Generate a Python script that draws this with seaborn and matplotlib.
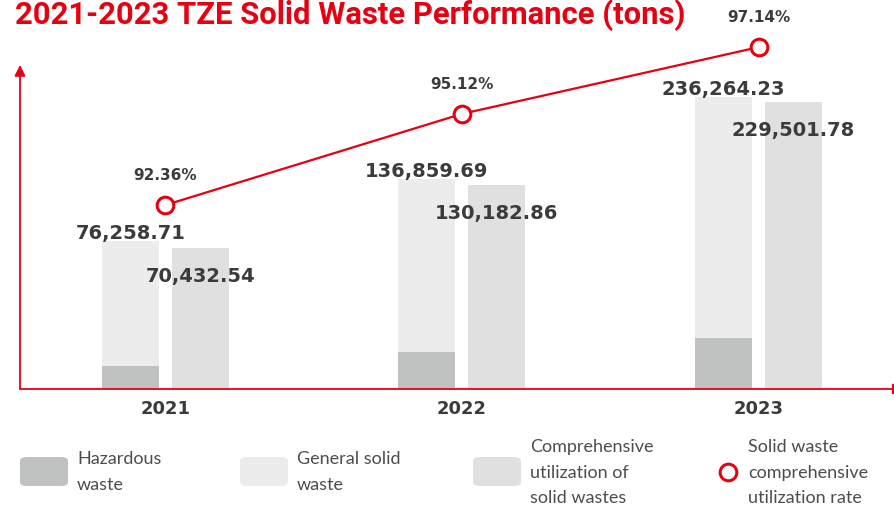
import numpy as np
import pandas as pd
import matplotlib
matplotlib.use("Agg")
import matplotlib.pyplot as plt
from matplotlib.patches import FancyBboxPatch
from matplotlib.lines import Line2D
import seaborn as sns

# ---- data (tons, %) ----
years = ["2021", "2022", "2023"]
total_waste = [76258.71, 136859.69, 236264.23]          # hazardous + general
hazardous_waste = [3470.0, 7660.0, 13050.0]             # estimated, not labelled
utilized_waste = [70432.54, 130182.86, 229501.78]
utilization_rate = [92.36, 95.12, 97.14]

RED = "#e60012"
HAZ = "#c0c2c1"
GEN = "#ececec"
UTIL = "#e0e0e0"
DARK = "#3d3a3a"
LEG = "#4d4d4d"

sns.set_theme(style="white")
plt.rcParams["font.family"] = ["DejaVu Sans"]

fig = plt.figure(figsize=(8.95, 5.06), dpi=100)
W, H = 895, 506
ax = fig.add_axes([20 / W, (H - 390) / H, (W - 20) / W, (390 - 66) / H])

# compressed value axis so small years stay readable
POW = 0.6
fwd = lambda v: np.power(np.clip(v, 0, None), POW)
inv = lambda u: np.power(np.clip(u, 0, None), 1 / POW)

stack_df = pd.DataFrame({
    "year": years * 2,
    "kind": ["waste"] * 3 + ["utilized"] * 3,
    "value": total_waste + utilized_waste,
})
haz_df = pd.DataFrame({
    "year": years * 2,
    "kind": ["waste"] * 3 + ["utilized"] * 3,
    "value": hazardous_waste + [0.0] * 3,
})

bar_kw = dict(x="year", y="value", hue="kind", hue_order=["waste", "utilized"],
              width=0.472, gap=0.186, legend=False, linewidth=0, ax=ax)
sns.barplot(data=stack_df, palette=[GEN, UTIL], **bar_kw)
sns.barplot(data=haz_df, palette=[HAZ, UTIL], **bar_kw)

ax.set_yscale("function", functions=(fwd, inv))
ax.set_ylim(0, 281000)
ax.set_xlim(-0.49, 2.46)
ax.set_xlabel("")
ax.set_ylabel("")
ax.set_yticks([])
for s in ax.spines.values():
    s.set_visible(False)
ax.tick_params(axis="x", length=0, pad=7)
ax.set_xticks(range(len(years)))
ax.set_xticklabels(years, fontsize=13, fontweight="bold", color=DARK)

# value labels: totals sit above their bars, utilization labels just inside the bar top
bars = ax.patches
n = len(years)
for i in range(n):
    b_tot = bars[i]
    b_use = bars[n + i]
    ax.annotate(f"{total_waste[i]:,.2f}", (b_tot.get_x() + b_tot.get_width() / 2, total_waste[i]),
                xytext=(0, 6), textcoords="offset points", ha="center", va="center",
                fontsize=14, fontweight="bold", color=DARK)
    ax.annotate(f"{utilized_waste[i]:,.2f}", (b_use.get_x() + b_use.get_width() / 2, utilized_waste[i]),
                xytext=(0, -20), textcoords="offset points", ha="center", va="center",
                fontsize=14, fontweight="bold", color=DARK)

# utilization rate line
ax2 = ax.twinx()
rate_df = pd.DataFrame({"year": years, "rate": utilization_rate})
sns.pointplot(data=rate_df, x="year", y="rate", color=RED, ax=ax2,
              markers="o", markersize=12, linewidth=1.6,
              markerfacecolor="white", markeredgecolor=RED, markeredgewidth=2.2)
for ln in ax2.lines:
    ln.set_clip_on(False)
    ln.set_zorder(5)
ax2.set_ylim(86.79, 96.6)
ax2.set_xlim(-0.49, 2.46)
ax2.set_yticks([])
ax2.set_ylabel("")
ax2.set_xlabel("")
for s in ax2.spines.values():
    s.set_visible(False)
for i, r in enumerate(utilization_rate):
    ax2.annotate(f"{r:.2f}%", (i, r), xytext=(0, 22), textcoords="offset points",
                 ha="center", va="center", fontsize=11, fontweight="bold",
                 color=DARK, annotation_clip=False)

# arrowed axes
arrow = dict(arrowstyle="-|>", color=RED, lw=1.3, mutation_scale=16, shrinkA=0, shrinkB=0)
ax.annotate("", xy=(0, 1.0), xytext=(0, 0), xycoords="axes fraction",
            arrowprops=arrow, annotation_clip=False)
ax.annotate("", xy=(1.01, 0), xytext=(0, 0), xycoords="axes fraction",
            arrowprops=arrow, annotation_clip=False)

# title
fig.text(15 / W, 1 - 24 / H, "2021-2023 TZE Solid Waste Performance (tons)",
         fontsize=22.3, fontweight="bold", color=RED, ha="left", va="baseline",
         family=["Roboto", "DejaVu Sans"])

# legend
def fx(px):
    return px / W

def fy(py):
    return 1 - py / H

swatches = [
    (20, HAZ, ["Hazardous", "waste"]),
    (240, GEN, ["General solid", "waste"]),
    (473, UTIL, ["Comprehensive", "utilization of", "solid wastes"]),
]
for x0, col, lines in swatches:
    fig.add_artist(FancyBboxPatch((fx(x0), fy(487)), fx(48), 29 / H,
                                  boxstyle="round,pad=0,rounding_size=0.008",
                                  transform=fig.transFigure, facecolor=col,
                                  edgecolor="none"))
    ys = [459, 485] if len(lines) == 2 else [447, 473, 498]
    for t, yy in zip(lines, ys):
        fig.text(fx(x0 + 57), fy(yy), t, fontsize=13, family=["Lato", "DejaVu Sans"],
                 color=LEG, ha="left", va="center")

fig.add_artist(Line2D([fx(728)], [fy(473)], marker="o", markersize=12,
                      markerfacecolor="white", markeredgecolor=RED,
                      markeredgewidth=2.2, transform=fig.transFigure))
for t, yy in zip(["Solid waste", "comprehensive", "utilization rate"], [447, 473, 498]):
    fig.text(fx(748), fy(yy), t, fontsize=13, family=["Lato", "DejaVu Sans"],
             color=LEG, ha="left", va="center")

fig.savefig("out.png", dpi=100)
